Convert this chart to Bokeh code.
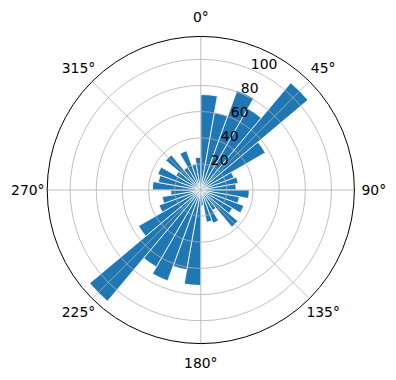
import numpy as np
from bokeh.plotting import figure
from bokeh.models import Range1d, ColumnDataSource
from bokeh.core.properties import value
from bokeh.embed import file_html
from bokeh.resources import INLINE

# ---- data ----
bin_starts_deg = list(range(0, 360, 10))
bin_width_deg = 10
counts = [73, 60, 81, 72, 107, 57, 27, 29, 27, 37, 30, 35, 28, 37, 18, 27, 25, 12,
          73, 62, 74, 68, 111, 55, 34, 30, 23, 37, 33, 35, 22, 35, 20, 32, 20, 25]
r_ticks = [20, 40, 60, 80, 100]
r_tick_labels = ["20", "40", "60", "80", "100"]
theta_ticks = [0, 45, 90, 135, 180, 225, 270, 315]
theta_labels = ["0°", "45°", "90°", "135°", "180°", "225°", "270°", "315°"]

# ---- layout ----
W, H = 396, 380
cx_px, cy_px = 200.3, 189.5
r_max = 117.5
outer_px = 153.6
s = outer_px / r_max  # px per unit

x0 = -cx_px / s
x1 = (W - cx_px) / s
y1 = cy_px / s
y0 = -(H - cy_px) / s

p = figure(width=W, height=H, output_backend="svg", toolbar_location=None,
           x_range=Range1d(x0, x1), y_range=Range1d(y0, y1), min_border=0)
p.axis.visible = False
p.grid.visible = False
p.outline_line_color = None
p.background_fill_color = "white"
p.border_fill_color = "white"

# bars (compass: 0 at north, clockwise)
starts = np.array(bin_starts_deg, dtype=float)
src = ColumnDataSource(dict(
    r=counts,
    sa=np.radians(90 - (starts + bin_width_deg)),
    ea=np.radians(90 - starts),
))
p.wedge(x=0, y=0, radius="r", start_angle="sa", end_angle="ea", source=src,
        fill_color="#1f77b4", line_color="white", line_width=0.8)

# grid on top of bars
grid_col = "#b0b0b0"
p.circle(x=[0] * len(r_ticks), y=[0] * len(r_ticks), radius=r_ticks,
         fill_color=None, line_color=grid_col, line_width=0.8)
th = np.radians(theta_ticks)
p.segment(x0=[0] * len(th), y0=[0] * len(th),
          x1=list(r_max * np.sin(th)), y1=list(r_max * np.cos(th)),
          line_color=grid_col, line_width=0.8)

# outer spine
p.circle(x=[0], y=[0], radius=[r_max], fill_color=None, line_color="black", line_width=1)

font = value("DejaVu Sans")
fs = "13.9px"
# theta labels
lab_r = 173 / s
p.text(x=list(lab_r * np.sin(th)), y=list(lab_r * np.cos(th)), text=theta_labels,
       text_align="center", text_baseline="middle", text_font=font,
       text_font_size=fs, text_color="black")

# radial labels at 22.5 deg
a = np.radians(22.5)
rt = np.array(r_ticks, dtype=float)
p.text(x=list(rt * np.sin(a)), y=list(rt * np.cos(a) + 0.5), text=r_tick_labels,
       text_align="left", text_baseline="bottom", text_font=font,
       text_font_size=fs, text_color="black")

open("out.html", "w").write(file_html(p, INLINE))
